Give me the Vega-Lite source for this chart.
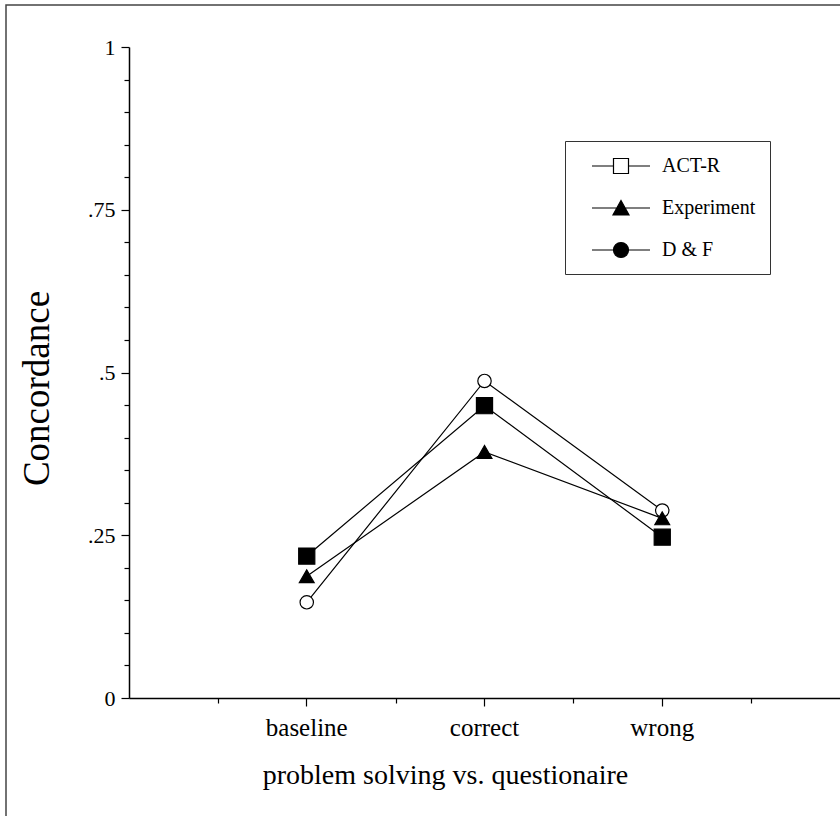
{
  "$schema": "https://vega.github.io/schema/vega-lite/v6.json",
  "width": 835,
  "height": 812,
  "autosize": "none",
  "padding": {"left": 6, "top": 5, "right": 0, "bottom": 0},
  "background": "white",
  "config": {
    "view": {"stroke": "#444", "strokeWidth": 1.5},
    "font": "Liberation Serif"
  },
  "data": {
    "values": [
      {"condition": "baseline", "series": "ACT-R", "value": 0.147},
      {"condition": "correct", "series": "ACT-R", "value": 0.487},
      {"condition": "wrong", "series": "ACT-R", "value": 0.288},
      {"condition": "baseline", "series": "Experiment", "value": 0.187},
      {"condition": "correct", "series": "Experiment", "value": 0.378},
      {"condition": "wrong", "series": "Experiment", "value": 0.276},
      {"condition": "baseline", "series": "D & F", "value": 0.218},
      {"condition": "correct", "series": "D & F", "value": 0.449},
      {"condition": "wrong", "series": "D & F", "value": 0.247}
    ]
  },
  "layer": [
    {
      "mark": {"type": "line", "color": "black", "strokeWidth": 1.2},
      "encoding": {
        "x": {
          "field": "condition", "type": "nominal",
          "scale": {"type": "band", "paddingInner": 0, "paddingOuter": 0.5, "range": [123, 834]},
          "axis": {
            "orient": "bottom",
            "offset": -119, "labelAngle": 0, "labelFontSize": 25, "labelColor": "black",
            "labelPadding": 9, "tickSize": 8, "tickColor": "black", "tickWidth": 1.2,
            "domainColor": "black", "domainWidth": 1.5,
            "title": "problem solving vs. questionaire", "titleFontSize": 28,
            "titleFontWeight": "normal", "titleColor": "black",
            "titleX": 439, "titleY": 77, "titleBaseline": "middle", "titleAlign": "center"
          }
        },
        "y": {
          "field": "value", "type": "quantitative",
          "scale": {"domain": [0, 1], "range": [693, 42]},
          "axis": {
            "offset": -123, "grid": false,
            "values": [0, 0.05, 0.1, 0.15, 0.2, 0.25, 0.3, 0.35, 0.4, 0.45, 0.5, 0.55, 0.6, 0.65, 0.7, 0.75, 0.8, 0.85, 0.9, 0.95, 1],
            "labelExpr": "datum.value==0?'0':datum.value==1?'1':datum.value==0.25?'.25':datum.value==0.5?'.5':datum.value==0.75?'.75':''",
            "tickSize": {"condition": {"test": "indexof([0,0.25,0.5,0.75,1], datum.value) >= 0", "value": 8}, "value": 5},
            "tickColor": "black", "tickWidth": 1.2, "domainColor": "black", "domainWidth": 1.5,
            "labelFontSize": 22, "labelColor": "black", "labelPadding": 6,
            "title": "Concordance", "titleFontSize": 37, "titleFontWeight": "normal", "titleColor": "black",
            "titleX": -92, "titleY": 383, "titleBaseline": "middle", "titleAlign": "center", "titleAngle": 270
          }
        },
        "detail": {"field": "series", "type": "nominal"}
      }
    },
    {
      "mark": {"type": "point", "filled": true, "stroke": "black", "strokeWidth": 1.2, "opacity": 1},
      "encoding": {
        "x": {
          "field": "condition", "type": "nominal",
          "scale": {"type": "band", "paddingInner": 0, "paddingOuter": 0.5, "range": [123, 834]},
          "axis": {
            "orient": "bottom",
            "offset": -119, "tickBand": "extent", "labels": false, "domain": false,
            "tickSize": 5, "tickColor": "black", "tickWidth": 1.2, "title": null
          }
        },
        "y": {"field": "value", "type": "quantitative", "scale": {"domain": [0, 1], "range": [693, 42]}},
        "shape": {
          "field": "series", "type": "nominal",
          "scale": {"domain": ["ACT-R", "Experiment", "D & F"], "range": ["circle", "triangle-up", "square"]},
          "legend": null
        },
        "fill": {
          "field": "series", "type": "nominal",
          "scale": {"domain": ["ACT-R", "Experiment", "D & F"], "range": ["white", "black", "black"]},
          "legend": null
        },
        "size": {
          "field": "series", "type": "nominal",
          "scale": {"domain": ["ACT-R", "Experiment", "D & F"], "range": [180, 260, 210]},
          "legend": null
        }
      }
    },
    {
      "transform": [{"filter": "false"}],
      "mark": {"type": "point", "filled": true, "strokeWidth": 1.2, "opacity": 1},
      "encoding": {
        "shape": {
          "field": "series", "type": "nominal",
          "scale": {
            "domain": ["ACT-R", "Experiment", "D & F"],
            "range": [
              "M0.2,0H2.35M3.85,0H6M2.35,-0.75H3.85V0.75H2.35Z",
              "M0.2,0H6M3.1,-0.75L3.9,0.7H2.3Z",
              "M0.2,0H6M2.35,0A0.75,0.75,0,1,0,3.85,0A0.75,0.75,0,1,0,2.35,0Z"
            ]
          },
          "legend": {
            "orient": "none", "legendX": 559, "legendY": 136, "title": null,
            "strokeColor": "#333", "padding": 14, "symbolSize": 400,
            "symbolStrokeWidth": 1.2, "symbolOpacity": 1,
            "labelFontSize": 20, "labelColor": "black", "labelOffset": 61, "rowPadding": 21,
            "labelExpr": "datum.label + '\u00a0\u00a0'"
          }
        },
        "fill": {
          "field": "series", "type": "nominal",
          "scale": {"domain": ["ACT-R", "Experiment", "D & F"], "range": ["white", "black", "black"]},
          "legend": {
            "orient": "none", "legendX": 559, "legendY": 136, "title": null,
            "strokeColor": "#333", "padding": 14, "symbolSize": 400,
            "symbolStrokeWidth": 1.2, "symbolOpacity": 1,
            "labelFontSize": 20, "labelColor": "black", "labelOffset": 61, "rowPadding": 21,
            "labelExpr": "datum.label + '\u00a0\u00a0'"
          }
        },
        "stroke": {
          "field": "series", "type": "nominal",
          "scale": {"domain": ["ACT-R", "Experiment", "D & F"], "range": ["black", "black", "black"]},
          "legend": {
            "orient": "none", "legendX": 559, "legendY": 136, "title": null,
            "strokeColor": "#333", "padding": 14, "symbolSize": 400,
            "symbolStrokeWidth": 1.2, "symbolOpacity": 1,
            "labelFontSize": 20, "labelColor": "black", "labelOffset": 61, "rowPadding": 21,
            "labelExpr": "datum.label + '\u00a0\u00a0'"
          }
        }
      }
    }
  ],
  "resolve": {
    "scale": {"shape": "independent", "fill": "independent", "size": "independent", "stroke": "independent"},
    "axis": {"x": "independent"}
  }
}
